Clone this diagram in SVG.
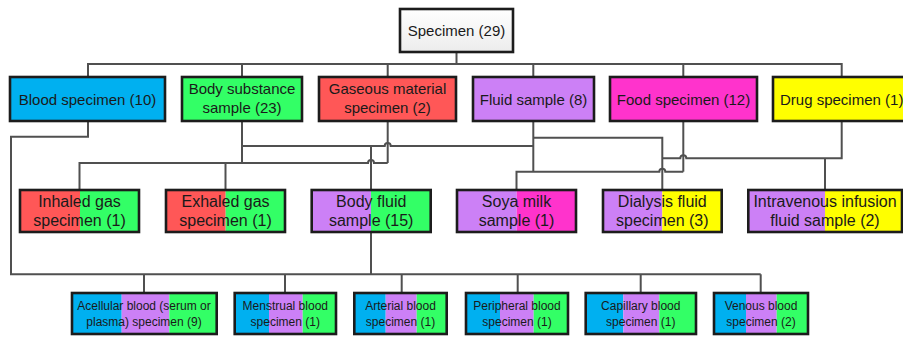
<svg xmlns="http://www.w3.org/2000/svg" width="903" height="337" viewBox="0 0 903 337">
  <style>
    .bg { fill: #ffffff; }
    .wire { fill: none; stroke: #505050; stroke-width: 2; stroke-linejoin: miter; }
    .frame { fill: none; stroke: #1c1c1c; stroke-width: 2.6; }
    .blue { fill: #00b0f0; }
    .green { fill: #33ff66; }
    .red { fill: #ff5757; }
    .purple { fill: #cc80f6; }
    .magenta { fill: #ff33cc; }
    .yellow { fill: #ffff00; }
    text { font-family: "Liberation Sans", Arial, sans-serif; fill: #1a1a1a; text-anchor: middle; }
    .t0 { font-size: 15px; }
    .t1 { font-size: 15px; }
    .t2 { font-size: 16px; }
    .t3 { font-size: 12px; }
  </style>
  <defs>
    <linearGradient id="rootFill" x1="0" y1="0" x2="0" y2="1">
      <stop offset="0" stop-color="#ffffff"/>
      <stop offset="1" stop-color="#ececec"/>
    </linearGradient>
  </defs>
  <rect class="bg" x="0" y="0" width="903" height="337"/>

  <!-- connectors -->
  <g id="connectors">
    <path class="wire" d="M456.5 52 V64"/>
    <path class="wire" d="M88 77 V64 H841.7 V77"/>
    <path class="wire" d="M242 64 V77 M387.7 64 V77 M533.3 64 V77 M683.3 64 V77"/>
    <!-- body substance / fluid to body fluid -->
    <path class="wire" d="M242 121 V163"/>
    <path class="wire" d="M242 146 H384.7 a3 3 0 0 1 6 0 H533.3"/>
    <path class="wire" d="M371 146 V190"/>
    <!-- gaseous to inhaled / exhaled -->
    <path class="wire" d="M387.7 121 V163"/>
    <path class="wire" d="M79.5 190 V163 H368 a3 3 0 0 1 6 0 H387.7"/>
    <path class="wire" d="M225.5 163 V190"/>
    <!-- fluid / food / drug to soya, dialysis, infusion -->
    <path class="wire" d="M533.3 121 V171.7"/>
    <path class="wire" d="M533.3 137.7 H662.3 V190"/>
    <path class="wire" d="M516.5 190 V171.7 H659.3 a3 3 0 0 1 6 0 H683.3"/>
    <path class="wire" d="M683.3 121 V171.7"/>
    <path class="wire" d="M662.3 158.3 H680.3 a3 3 0 0 1 6 0 H841.7 V121"/>
    <path class="wire" d="M825 158.3 V190"/>
    <!-- blood and body fluid to blood sample types -->
    <path class="wire" d="M88 121 V136.7 H11 V274.3 H760.7"/>
    <path class="wire" d="M371 232 V274.3"/>
    <path class="wire" d="M144 274.3 V293 M285 274.3 V293 M401.7 274.3 V293 M517.7 274.3 V293 M640.7 274.3 V293 M760.7 274.3 V293"/>
  </g>

  <!-- root -->
  <g id="specimen">
    <rect x="400" y="9" width="113" height="43" fill="url(#rootFill)"/>
    <rect class="frame" x="400" y="9" width="113" height="43"/>
    <text class="t0" x="456.5" y="36">Specimen (29)</text>
  </g>

  <!-- level 1 -->
  <g id="blood-specimen">
    <rect class="blue" x="10" y="77" width="155" height="44"/>
    <rect class="frame" x="10" y="77" width="155" height="44"/>
    <text class="t1" x="87.5" y="104.5">Blood specimen (10)</text>
  </g>
  <g id="body-substance-sample">
    <rect class="green" x="182" y="77" width="120" height="44"/>
    <rect class="frame" x="182" y="77" width="120" height="44"/>
    <text class="t1" x="242" y="94">Body substance</text>
    <text class="t1" x="242" y="113">sample (23)</text>
  </g>
  <g id="gaseous-material-specimen">
    <rect class="red" x="319" y="77" width="137" height="44"/>
    <rect class="frame" x="319" y="77" width="137" height="44"/>
    <text class="t1" x="387.5" y="94">Gaseous material</text>
    <text class="t1" x="387.5" y="113">specimen (2)</text>
  </g>
  <g id="fluid-sample">
    <rect class="purple" x="473" y="77" width="121" height="44"/>
    <rect class="frame" x="473" y="77" width="121" height="44"/>
    <text class="t1" x="533.5" y="104.5">Fluid sample (8)</text>
  </g>
  <g id="food-specimen">
    <rect class="magenta" x="610" y="77" width="147" height="44"/>
    <rect class="frame" x="610" y="77" width="147" height="44"/>
    <text class="t1" x="683.5" y="104.5">Food specimen (12)</text>
  </g>
  <g id="drug-specimen">
    <rect class="yellow" x="773" y="77" width="137" height="44"/>
    <rect class="frame" x="773" y="77" width="137" height="44"/>
    <text class="t1" x="841.7" y="104.5">Drug specimen (1)</text>
  </g>

  <!-- level 2 -->
  <g id="inhaled-gas-specimen">
    <rect class="red" x="20" y="190" width="60" height="42"/>
    <rect class="green" x="80" y="190" width="59" height="42"/>
    <rect class="frame" x="20" y="190" width="119" height="42"/>
    <text class="t2" x="79.5" y="206.5">Inhaled gas</text>
    <text class="t2" x="79.5" y="225.5">specimen (1)</text>
  </g>
  <g id="exhaled-gas-specimen">
    <rect class="red" x="166" y="190" width="59.7" height="42"/>
    <rect class="green" x="225.7" y="190" width="59.3" height="42"/>
    <rect class="frame" x="166" y="190" width="119" height="42"/>
    <text class="t2" x="225.5" y="206.5">Exhaled gas</text>
    <text class="t2" x="225.5" y="225.5">specimen (1)</text>
  </g>
  <g id="body-fluid-sample">
    <rect class="purple" x="311.7" y="190" width="59.3" height="42"/>
    <rect class="green" x="371" y="190" width="59.7" height="42"/>
    <rect class="frame" x="311.7" y="190" width="119" height="42"/>
    <text class="t2" x="371.2" y="206.5">Body fluid</text>
    <text class="t2" x="371.2" y="225.5">sample (15)</text>
  </g>
  <g id="soya-milk-sample">
    <rect class="purple" x="457" y="190" width="59.7" height="42"/>
    <rect class="magenta" x="516.7" y="190" width="59.3" height="42"/>
    <rect class="frame" x="457" y="190" width="119" height="42"/>
    <text class="t2" x="516.5" y="206.5">Soya milk</text>
    <text class="t2" x="516.5" y="225.5">sample (1)</text>
  </g>
  <g id="dialysis-fluid-specimen">
    <rect class="purple" x="603" y="190" width="59.3" height="42"/>
    <rect class="yellow" x="662.3" y="190" width="59.4" height="42"/>
    <rect class="frame" x="603" y="190" width="118.7" height="42"/>
    <text class="t2" x="662.3" y="206.5">Dialysis fluid</text>
    <text class="t2" x="662.3" y="225.5">specimen (3)</text>
  </g>
  <g id="intravenous-infusion-fluid-sample">
    <rect class="purple" x="748.3" y="190" width="76.7" height="42"/>
    <rect class="yellow" x="825" y="190" width="77" height="42"/>
    <rect class="frame" x="748.3" y="190" width="153.7" height="42"/>
    <text class="t2" x="825" y="206.5">Intravenous infusion</text>
    <text class="t2" x="825" y="225.5">fluid sample (2)</text>
  </g>

  <!-- level 3 -->
  <g id="acellular-blood-specimen">
    <rect class="blue" x="72" y="293" width="49.7" height="41"/>
    <rect class="purple" x="121.7" y="293" width="47.6" height="41"/>
    <rect class="green" x="169.3" y="293" width="47.4" height="41"/>
    <rect class="frame" x="72" y="293" width="144.7" height="41"/>
    <text class="t3" x="144" y="309.5">Acellular blood (serum or</text>
    <text class="t3" x="144" y="326">plasma) specimen (9)</text>
  </g>
  <g id="menstrual-blood-specimen">
    <rect class="blue" x="234.7" y="293" width="34.3" height="41"/>
    <rect class="purple" x="269" y="293" width="33.7" height="41"/>
    <rect class="green" x="302.7" y="293" width="33.3" height="41"/>
    <rect class="frame" x="234.7" y="293" width="101.3" height="41"/>
    <text class="t3" x="285.3" y="309.5">Menstrual blood</text>
    <text class="t3" x="285.3" y="326">specimen (1)</text>
  </g>
  <g id="arterial-blood-specimen">
    <rect class="blue" x="354.3" y="293" width="31.4" height="41"/>
    <rect class="purple" x="385.7" y="293" width="31" height="41"/>
    <rect class="green" x="416.7" y="293" width="30" height="41"/>
    <rect class="frame" x="354.3" y="293" width="92.4" height="41"/>
    <text class="t3" x="400.5" y="309.5">Arterial blood</text>
    <text class="t3" x="400.5" y="326">specimen (1)</text>
  </g>
  <g id="peripheral-blood-specimen">
    <rect class="blue" x="466" y="293" width="34" height="41"/>
    <rect class="purple" x="500" y="293" width="33.7" height="41"/>
    <rect class="green" x="533.7" y="293" width="34.3" height="41"/>
    <rect class="frame" x="466" y="293" width="102" height="41"/>
    <text class="t3" x="517" y="309.5">Peripheral blood</text>
    <text class="t3" x="517" y="326">specimen (1)</text>
  </g>
  <g id="capillary-blood-specimen">
    <rect class="blue" x="585.7" y="293" width="37.6" height="41"/>
    <rect class="purple" x="623.3" y="293" width="36" height="41"/>
    <rect class="green" x="659.3" y="293" width="36.7" height="41"/>
    <rect class="frame" x="585.7" y="293" width="110.3" height="41"/>
    <text class="t3" x="640.8" y="309.5">Capillary blood</text>
    <text class="t3" x="640.8" y="326">specimen (1)</text>
  </g>
  <g id="venous-blood-specimen">
    <rect class="blue" x="714" y="293" width="32" height="41"/>
    <rect class="purple" x="746" y="293" width="30.7" height="41"/>
    <rect class="green" x="776.7" y="293" width="31.3" height="41"/>
    <rect class="frame" x="714" y="293" width="94" height="41"/>
    <text class="t3" x="761" y="309.5">Venous blood</text>
    <text class="t3" x="761" y="326">specimen (2)</text>
  </g>
</svg>
